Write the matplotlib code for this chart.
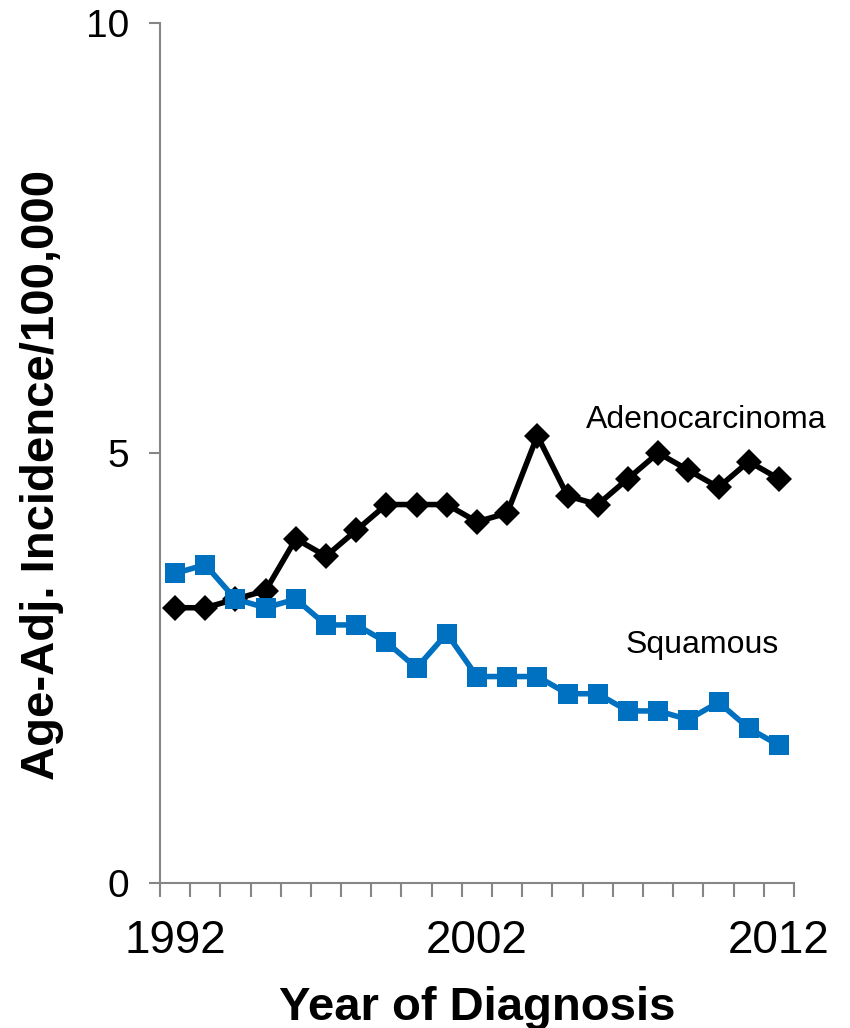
import numpy as np
import matplotlib
matplotlib.use("Agg")
import matplotlib.pyplot as plt

plt.rcParams['font.family'] = ['Liberation Sans', 'DejaVu Sans']

years = list(range(1992, 2013))
adeno = [3.2, 3.2, 3.3, 3.4, 4.0, 3.8, 4.1, 4.4, 4.4, 4.4, 4.2,
         4.3, 5.2, 4.5, 4.4, 4.7, 5.0, 4.8, 4.6, 4.9, 4.7]
squamous = [3.6, 3.7, 3.3, 3.2, 3.3, 3.0, 3.0, 2.8, 2.5, 2.9, 2.4,
            2.4, 2.4, 2.2, 2.2, 2.0, 2.0, 1.9, 2.1, 1.8, 1.6]
label_years = [1992, 2002, 2012]

AXIS_GRAY = "#868686"
BLUE = "#0070C0"


def main():
    x = np.arange(len(years))
    fig = plt.figure(figsize=(8.5, 10.28), dpi=100)
    ax = fig.add_axes([0.1882, 0.1411, 0.7459, 0.8366])

    ax.plot(x, adeno, color="black", lw=4.0, marker="D", ms=13.5,
            markeredgewidth=0, zorder=3)
    ax.plot(x, squamous, color=BLUE, lw=4.0, marker="s", ms=15,
            markeredgewidth=0, zorder=3)

    ax.set_xlim(-0.5, len(years) - 0.5)
    ax.set_ylim(0, 10)

    # category axis: tick marks between years, labels on a few years
    ax.set_xticks(np.arange(len(years) + 1) - 0.5)
    ax.set_xticklabels([])
    ax.set_xticks([years.index(y) for y in label_years], minor=True)
    ax.set_xticklabels([str(y) for y in label_years], minor=True)
    ax.tick_params(axis='x', which='major', length=10, width=1.5,
                   color=AXIS_GRAY, direction='out')
    ax.tick_params(axis='x', which='minor', length=0, pad=26, labelsize=33)

    ax.set_yticks([0, 5, 10])
    ax.tick_params(axis='y', length=8, width=1.5, color=AXIS_GRAY,
                   direction='out', pad=14, labelsize=28)

    for s in ["top", "right"]:
        ax.spines[s].set_visible(False)
    for s in ["left", "bottom"]:
        ax.spines[s].set_color(AXIS_GRAY)
        ax.spines[s].set_linewidth(1.5)

    ax.text(17.6, 5.38, "Adenocarcinoma", fontsize=23, ha="center", va="center")
    ax.text(17.45, 2.77, "Squamous", fontsize=23, ha="center", va="center")

    fig.text(42 / 850, 1 - 475 / 1028, "Age-Adj. Incidence/100,000",
             rotation=90, ha="center", va="center", fontsize=34,
             fontweight="bold")
    fig.text(0.5612, 0.008, "Year of Diagnosis", ha="center", va="baseline",
             fontsize=34, fontweight="bold")

    plt.savefig("out.png", dpi=100)


if __name__ == "__main__":
    main()
